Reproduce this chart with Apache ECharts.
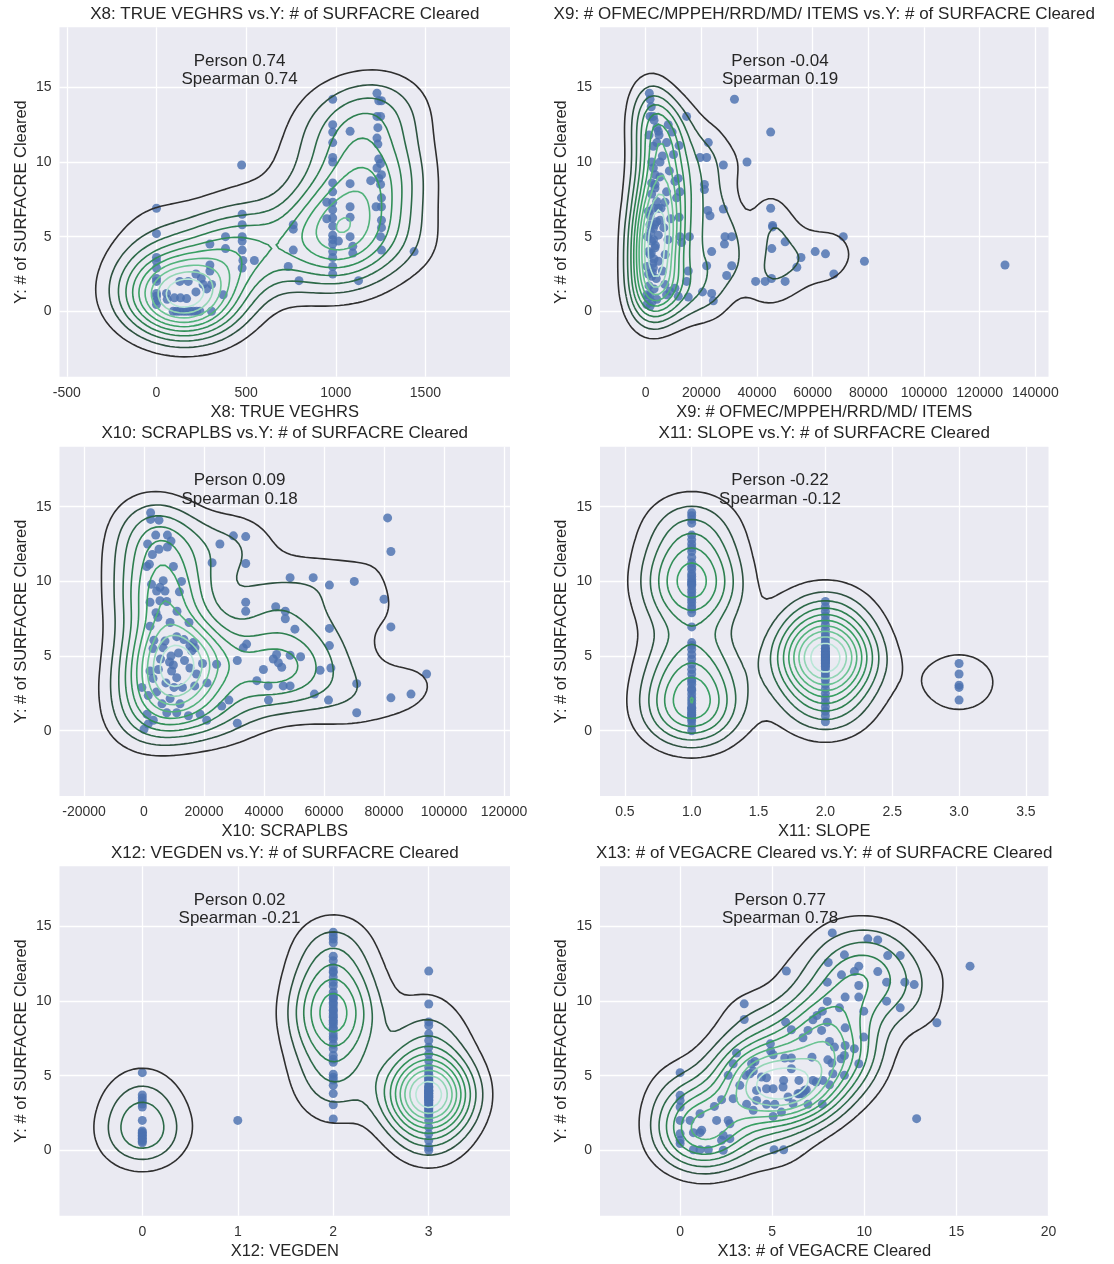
<!DOCTYPE html>
<html>
<head>
<meta charset="utf-8">
<script src="https://cdn.jsdelivr.net/npm/echarts@6/dist/echarts.min.js"></script>
<style>
  html, body { margin: 0; padding: 0; background: #ffffff; }
  #chart { width: 1114px; height: 1264px; }
</style>
</head>
<body>
<div id="chart"></div>
<script>
// ---- data -------------------------------------------------------------
const yName = 'Y: # of SURFACRE Cleared';
const xNames = ['X8: TRUE VEGHRS', 'X9: # OFMEC/MPPEH/RRD/MD/ ITEMS', 'X10: SCRAPLBS',
                'X11: SLOPE', 'X12: VEGDEN', 'X13: # of VEGACRE Cleared'];
const pearson  = [0.74, -0.04, 0.09, -0.22, 0.02, 0.77];
const spearman = [0.74,  0.19, 0.18, -0.12, -0.21, 0.78];

const yTicks = [0, 5, 10, 15];
const xTicks8  = [-500, 0, 500, 1000, 1500];
const xTicks9  = [0, 20000, 40000, 60000, 80000, 100000, 120000, 140000];
const xTicks10 = [-20000, 0, 20000, 40000, 60000, 80000, 100000, 120000];
const xTicks11 = [0.5, 1.0, 1.5, 2.0, 2.5, 3.0, 3.5];
const xTicks12 = [0, 1, 2, 3];
const xTicks13 = [0, 5, 10, 15, 20];

// X8: TRUE VEGHRS vs Y
const vegHrsPoints = [
  [0,6.9],[0,5.2],[0,3.6],[0,3.35],[0,2.9],[0,2.2],[0,2.0],[0,1.2],[0,1.0],[0,0.7],[0,0.45],
  [56,1.2],[130,2.0],[177,2.0],[220,2.5],[220,1.3],[134,0.9],[168,0.85],[100,0.9],[60,0.8],
  [93,0],[112,0],[130,0],[150,0],[168,0],[187,0],[205,0],[224,0],[242,0],[307,0],
  [298,4.5],[298,3.1],[298,2.7],[307,1.8],[372,1.1],[385,5.0],[385,4.2],[260,1.8],[250,2.2],[280,1.5],
  [475,9.8],[478,6.5],[478,5.8],[478,5.0],[478,4.7],[478,4.1],[478,2.9],[482,3.4],[546,3.4],
  [735,3.0],[763,5.8],[763,5.5],[763,4.1],[795,2.05],
  [983,14.2],[983,12.5],[983,12.0],[983,11.3],[983,10.3],[983,10.0],[983,8.6],[983,8.0],[983,7.3],
  [983,6.8],[983,6.25],[983,5.7],[983,5.1],[983,4.8],[983,4.5],[983,4.0],[983,3.6],[983,3.0],[983,2.5],
  [950,7.3],[950,6.2],[1015,4.7],[1080,12.05],[1080,8.55],[1080,7.0],[1080,6.3],[1080,5.0],
  [1095,4.35],[1095,3.9],[1127,2.05],[1195,8.75],
  [1230,14.6],[1240,14.1],[1255,14.1],[1230,13.05],[1250,13.05],[1235,12.3],[1230,11.6],[1235,11.2],
  [1240,10.2],[1250,9.9],[1230,9.6],[1255,9.15],[1240,8.9],[1250,8.5],[1255,7.6],[1255,7.0],
  [1255,6.1],[1255,5.6],[1250,5.0],[1255,4.1],[1225,7.0],
  [1437,4.0]
];

// X9: # OFMEC/MPPEH/RRD/MD/ ITEMS vs Y
const itemsPoints = [
  [1300,14.6],[1560,14.2],[31900,14.2],[44900,12.0],[14700,13.05],[8100,12.5],[1560,13.05],[2750,13.05],
  [4000,12.3],[4550,12.05],[1200,11.8],[2750,11.05],[4000,11.3],[7500,11.3],[12000,11.1],[22500,11.3],
  [19500,10.3],[21900,10.3],[27900,9.8],[36400,10.0],[2150,10.0],[5150,10.0],[2750,9.6],[3350,9.15],
  [11700,8.9],[10500,8.7],[2150,8.6],[3350,8.25],[12300,8.0],[21100,8.5],[21100,8.15],[11100,7.6],
  [6900,7.3],[4550,6.9],[950,6.7],[27900,6.85],[22300,6.75],[23100,6.4],[44900,6.9],[12000,6.3],
  [5150,6.1],[45600,5.75],[45600,5.65],[15700,5.0],[12300,5.0],[28500,5.0],[30900,5.0],[28300,4.5],
  [71000,5.0],[50100,4.65],[12900,4.6],[23700,4.0],[45300,4.2],[60900,4.0],[64600,3.85],[55800,3.6],
  [78600,3.35],[129100,3.1],[21900,3.05],[30900,3.05],[54300,2.95],[15300,2.7],[14700,2.0],[29100,2.4],
  [67600,2.5],[39500,2.0],[42900,2.0],[45200,2.2],[50100,2.0],[20400,1.3],[23700,1.2],[24300,0.7],
  [15300,0.95],[8700,1.35],[11700,1.0],[7500,1.1],[6900,1.8],[10500,1.55],
  [400,1.1],[1600,1.1],[950,0.9],[400,0.45],[1600,0.35],[2150,2.35],[2750,2.9],[4550,3.35],[1600,3.8],
  [3350,4.25],[2150,4.7],[4550,5.1],[2750,5.55],[3950,6.0],[1600,6.4],[2750,6.9],[3950,7.35],[2150,7.85],
  [3350,8.5],[5150,9.0],[2500,3.2],[3000,3.5],[2000,3.9],[3500,4.4],[2800,4.8],[1800,5.3],[3200,5.8],
  [2400,2.6],[3800,2.2],[1200,1.7],[3000,1.5],[2200,0.6],[4000,0.8],[6000,2.7],[7000,3.8],[8000,4.8],
  [6500,5.6],[9000,6.2],[5500,6.9],[8500,9.4],[6000,10.4],[4800,11.8],[3000,12.8],[2000,13.7],
  [9500,12.0],[10000,10.5],[7500,8.0],[1000,4.0],[1000,2.5],[1500,5.8],[500,3.0],[600,5.0]
];

// X10: SCRAPLBS vs Y
const scrapPoints = [
  [81200,14.25],[82300,12.0],[80000,8.8],[82300,6.95],[94200,3.8],[82300,2.2],[89000,2.45],[70900,3.15],
  [70900,1.2],[70100,10.0],[61800,9.75],[56400,10.25],[48700,10.25],[61800,6.85],[61800,5.7],[62300,4.2],
  [58700,4.05],[56800,2.45],[61500,2.05],[50300,6.8],[47100,8.0],[47100,7.5],[43900,8.3],[48700,5.05],
  [52200,4.95],[44200,5.1],[43100,4.8],[44800,4.55],[45900,4.25],[39800,4.1],[37600,3.35],[41400,3.0],
  [46400,3.0],[48700,3.0],[41500,2.05],[33900,13.0],[29800,13.05],[25300,12.5],[22700,11.25],[33900,11.2],
  [33900,8.6],[33900,8.0],[33100,5.55],[34200,5.8],[31100,4.7],[24200,4.45],[28300,2.05],[25900,1.65],
  [31100,0.5],[20900,0.7],[18700,1.1],
  [2200,14.6],[5000,14.1],[2200,14.15],[3900,13.1],[7800,13.1],[7800,12.3],[5000,12.15],[2800,11.8],
  [1800,11.15],[900,11.0],[9800,11.0],[6400,10.05],[5300,9.6],[4200,9.35],[7000,9.35],[11800,9.3],
  [2000,8.6],[5300,8.7],[7600,8.65],[4600,7.6],[2000,7.0],[8700,7.25],[15000,7.25],[3300,6.05],
  [10900,6.3],[13300,6.1],[16400,5.9],[17000,5.55],[15900,5.35],[15300,5.7],[6400,5.55],
  [9000,5.0],[8500,4.6],[9800,4.4],[9200,4.0],[4800,4.1],[2000,4.0],[15300,4.2],[10900,3.55],[7300,3.2],
  [10000,2.9],[12800,2.9],[16900,3.0],[-700,2.9],[1400,2.35],[4200,2.6],[8700,2.15],[1000,1.1],[1400,0.45],
  [0,0.1],[3100,0.7],[7600,1.2],[10900,1.2],[14800,1.0],[12000,1.8],[6000,1.8],[3000,3.5],[5500,4.8],
  [11500,5.2],[13500,4.7],[7000,6.0],[3000,5.5],[17500,3.8],[19500,4.5],[21000,3.2],[2500,9.8],
  [1200,12.5],[4000,7.9],[11000,8.0],[12500,10.0],[9000,12.7]
];

// X11: SLOPE vs Y (one list of Y values per slope class)
const slopeOneY = [14.6,14.4,14.15,13.9,13.1,12.8,12.5,12.25,12.0,11.6,11.25,11.0,10.8,10.5,10.35,10.15,
  10.0,9.9,9.8,9.7,9.45,9.25,9.0,8.8,8.6,8.35,8.15,7.9,6.95,5.9,5.7,5.45,5.1,4.8,4.45,4.1,3.8,3.45,3.3,
  3.1,2.8,2.7,2.45,2.2,2.0,1.8,1.55,1.5,1.35,1.2,1.1,1.0,0.9,0.8,0.65,0.35,0.0];
const slopeTwoY = [8.65,8.3,8.0,7.7,7.4,7.1,6.8,6.5,6.3,6.1,5.9,5.7,5.5,5.5,5.3,5.3,5.2,5.1,5.0,5.0,5.0,
  4.9,4.8,4.8,4.7,4.6,4.6,4.5,4.4,4.3,4.2,4.0,3.8,3.6,3.4,3.1,2.8,2.5,2.2,1.9,1.6,1.3,1.0,0.6];
const slopeThreeY = [4.5,3.8,3.05,2.9,2.05];

// X12: VEGDEN vs Y (one list of Y values per density class; stacked repeats overlap in the column)
const vegDenZeroY = [5.2,3.7,3.5,3.3,3.1,2.9,2.0,1.3,1.2,1.1,1.0,0.9,0.8,0.7,0.6,0.5];
const vegDenOneY = [2.0];
const vegDenTwoY = [14.6,14.35,14.15,13.9,13.0,12.7,12.25,11.9,11.6,11.25,10.35,10.15,9.9,9.6,9.35,9.15,
  8.9,8.7,8.45,8.15,7.8,7.45,7.1,6.8,6.35,6.1,5.9,5.1,4.9,4.7,4.35,3.8,3.05,2.1,
  10.6,10.2,9.8,9.4,9.0,8.6,8.2,11.0,7.6,12.0];
const vegDenThreeY = [12.0,9.8,8.6,8.35,7.8,7.35,6.9,6.45,6.0,5.55,5.1,4.7,4.6,4.3,4.25,4.0,4.0,3.8,3.8,
  3.55,3.5,3.35,3.3,3.1,3.0,2.9,2.7,2.45,2.0,1.55,1.1,0.65,0.2,0.0,
  5.3,4.9,4.5,4.2,3.9,3.7,3.6,3.4,3.2,2.8,2.6,2.3,4.8,4.1,3.95,3.65];

// X13: # of VEGACRE Cleared vs Y
const vegAcrePoints = [
  [8.26,14.56],[10.19,14.16],[10.73,14.09],[8.92,13.09],[11.27,13.04],[11.95,13.04],[8.04,12.58],[15.74,12.33],
  [9.7,12.33],[9.46,11.97],[5.77,12.0],[8.76,11.75],[10.73,11.97],[7.99,11.26],[11.21,11.26],[12.2,11.26],
  [12.71,11.1],[9.7,11.04],[8.96,10.26],[9.7,10.26],[7.99,9.97],[11.21,9.99],[11.95,9.54],[3.48,9.81],
  [8.65,9.54],[9.97,9.32],[7.72,9.32],[7.43,9.03],[7.21,8.74],[13.94,8.54],[3.48,8.76],[5.73,8.58],
  [6.04,8.07],[7.99,8.58],[6.94,8.03],[7.68,8.03],[8.96,8.2],[9.97,7.58],[6.67,7.54],[8.11,7.29],
  [8.38,6.91],[8.96,7.02],[9.46,6.8],[4.9,7.13],[4.92,6.64],[3.06,6.51],[4.06,5.95],[5.05,6.4],
  [5.68,6.18],[6.04,6.18],[7.16,6.24],[8.02,6.06],[8.24,5.84],[8.74,6.13],[8.92,6.35],[9.7,5.8],
  [2.88,5.8],[2.61,5.02],[3.88,5.8],[3.97,5.31],[4.42,4.91],[4.69,4.86],[5.62,4.68],[6.04,5.46],
  [6.45,4.68],[6.85,4.06],[7.39,4.57],[8.92,5.02],[8.11,4.39],[7.72,3.08],[6.94,3.08],[6.67,3.79],[6.4,3.79],
  [0,5.2],[0,3.68],[0,3.34],[0,2.9],[0,2.0],[0,1.11],[0,0.67],[0,0.45],
  [0.54,2.0],[1.08,2.45],[0.72,1.18],[1.08,1.18],[1.17,1.34],[1.86,2.94],[2.25,3.39],[1.98,2.0],
  [2.61,2.0],[2.7,1.78],[2.34,1.0],[2.25,0.67],[2.7,0.78],[2.34,0],[0.72,0.04],[1.08,0.04],[1.53,0.04],
  [2.88,3.46],[3.24,4.35],[3.61,3.08],[3.97,2.68],[4.15,3.34],[4.69,3.08],[5.14,3.08],[5.5,2.56],[5.05,2.27],
  [5.1,0.04],[5.62,0.04],[12.84,2.12],
  [3.57,5.02],[3.79,5.13],[4.15,4.01],[4.69,4.12],[5.05,4.12],[5.59,4.24],[5.86,3.57],[6.13,3.12],
  [6.49,3.79],[6.76,4.01],[7.21,4.68],[7.75,4.68],[8.29,5.13]
];

// ---- helpers ----------------------------------------------------------
const FONT = '"Liberation Sans", Arial, Helvetica, sans-serif';
const TEXT = '#262626';

function columnPairs(xValue, ys) { return ys.map(y => [xValue, y]); }

const slopePoints = [].concat(columnPairs(1, slopeOneY), columnPairs(2, slopeTwoY), columnPairs(3, slopeThreeY));
const vegDenPoints = [].concat(columnPairs(0, vegDenZeroY), columnPairs(1, vegDenOneY),
                               columnPairs(2, vegDenTwoY), columnPairs(3, vegDenThreeY));

// Scott's rule bandwidth for one variable
function scottBandwidth(v) {
  const n = v.length;
  const mean = v.reduce((a, b) => a + b, 0) / n;
  const std = Math.sqrt(v.reduce((a, b) => a + (b - mean) * (b - mean), 0) / (n - 1));
  const s = v.slice().sort((a, b) => a - b);
  const pct = p => { const r = p * (n - 1); const lo = Math.floor(r), hi = Math.ceil(r); return s[lo] + (s[hi] - s[lo]) * (r - lo); };
  const iqr = (pct(0.75) - pct(0.25)) / 1.349;
  let a = Math.min(std, iqr);
  if (!(a > 0)) a = std;
  return 1.059 * a * Math.pow(n, -0.2);
}

// Gaussian product-kernel density estimate on a regular grid
function kde2d(points, gridSize, cut) {
  const xs = points.map(p => p[0]), ys = points.map(p => p[1]);
  const bx = scottBandwidth(xs), by = scottBandwidth(ys);
  const x0 = Math.min(...xs) - cut * bx, x1 = Math.max(...xs) + cut * bx;
  const y0 = Math.min(...ys) - cut * by, y1 = Math.max(...ys) + cut * by;
  const gx = [], gy = [];
  for (let i = 0; i < gridSize; i++) {
    gx.push(x0 + (x1 - x0) * i / (gridSize - 1));
    gy.push(y0 + (y1 - y0) * i / (gridSize - 1));
  }
  const n = points.length;
  const kx = gx.map(g => xs.map(x => Math.exp(-0.5 * ((g - x) / bx) ** 2)));
  const ky = gy.map(g => ys.map(y => Math.exp(-0.5 * ((g - y) / by) ** 2)));
  const norm = 1 / (n * 2 * Math.PI * bx * by);
  const z = [];
  for (let i = 0; i < gridSize; i++) {
    const row = [];
    for (let j = 0; j < gridSize; j++) {
      let s = 0;
      const a = kx[i], b = ky[j];
      for (let p = 0; p < n; p++) s += a[p] * b[p];
      row.push(s * norm);
    }
    z.push(row);
  }
  return { gx, gy, z };
}

// evenly spaced contour levels strictly between the lowest and highest density
function contourLevels(zmin, zmax, nLevels) {
  const out = [];
  for (let k = 1; k <= nLevels; k++) out.push(zmin + (zmax - zmin) * k / (nLevels + 1));
  return out;
}

// marching squares: returns polylines (arrays of [x, y]) for one level
function contourChains(grid, level) {
  const { gx, gy, z } = grid;
  const nx = gx.length, ny = gy.length;
  const pts = new Map();
  const edge = (key, xa, ya, za, xb, yb, zb) => {
    if (!pts.has(key)) {
      const t = (level - za) / (zb - za);
      pts.set(key, [xa + t * (xb - xa), ya + t * (yb - ya)]);
    }
    return key;
  };
  const segs = [];
  for (let i = 0; i < nx - 1; i++) {
    for (let j = 0; j < ny - 1; j++) {
      const a = z[i][j], b = z[i + 1][j], c = z[i + 1][j + 1], d = z[i][j + 1];
      const A = a >= level, B = b >= level, C = c >= level, D = d >= level;
      if (A === B && B === C && C === D) continue;
      const eb = A !== B ? edge('h' + i + '_' + j, gx[i], gy[j], a, gx[i + 1], gy[j], b) : null;
      const er = B !== C ? edge('v' + (i + 1) + '_' + j, gx[i + 1], gy[j], b, gx[i + 1], gy[j + 1], c) : null;
      const et = D !== C ? edge('h' + i + '_' + (j + 1), gx[i], gy[j + 1], d, gx[i + 1], gy[j + 1], c) : null;
      const el = A !== D ? edge('v' + i + '_' + j, gx[i], gy[j], a, gx[i], gy[j + 1], d) : null;
      const crossed = [eb, er, et, el].filter(e => e !== null);
      if (crossed.length === 2) {
        segs.push(crossed);
      } else if (crossed.length === 4) {
        const centre = (a + b + c + d) / 4 >= level;
        if (centre === A) { segs.push([eb, er], [el, et]); }
        else { segs.push([eb, el], [er, et]); }
      }
    }
  }
  const adj = new Map();
  segs.forEach((s, k) => s.forEach(e => { if (!adj.has(e)) adj.set(e, []); adj.get(e).push(k); }));
  const used = new Array(segs.length).fill(false);
  const chains = [];
  for (let k = 0; k < segs.length; k++) {
    if (used[k]) continue;
    used[k] = true;
    const chain = [segs[k][0], segs[k][1]];
    let tail = segs[k][1];
    for (;;) {
      const nxt = (adj.get(tail) || []).find(m => !used[m]);
      if (nxt === undefined) break;
      used[nxt] = true;
      tail = segs[nxt][0] === tail ? segs[nxt][1] : segs[nxt][0];
      chain.push(tail);
    }
    let head = segs[k][0];
    for (;;) {
      const nxt = (adj.get(head) || []).find(m => !used[m]);
      if (nxt === undefined) break;
      used[nxt] = true;
      head = segs[nxt][0] === head ? segs[nxt][1] : segs[nxt][0];
      chain.unshift(head);
    }
    chains.push(chain.map(key => pts.get(key)));
  }
  return chains;
}

// colour ramp for the density contours: charcoal -> dark green -> pale mint
const rampStops = [[0, '#2f2f2f'], [0.14, '#2c5a43'], [0.34, '#2d804f'], [0.56, '#38a062'], [0.78, '#6cc493'], [1, '#b8e6d6']];
function rampColor(t) {
  const hex = h => [1, 3, 5].map(k => parseInt(h.substr(k, 2), 16));
  for (let k = 1; k < rampStops.length; k++) {
    if (t <= rampStops[k][0] || k === rampStops.length - 1) {
      const [t0, c0] = rampStops[k - 1], [t1, c1] = rampStops[k];
      const u = Math.max(0, Math.min(1, (t - t0) / (t1 - t0)));
      const a = hex(c0), b = hex(c1);
      return 'rgb(' + a.map((v, q) => Math.round(v + (b[q] - v) * u)).join(',') + ')';
    }
  }
  return rampStops[rampStops.length - 1][1];
}

function contourSeries(points, idx) {
  const grid = kde2d(points, 100, 3);
  let zmin = Infinity, zmax = -Infinity;
  grid.z.forEach(r => r.forEach(v => { if (v < zmin) zmin = v; if (v > zmax) zmax = v; }));
  const levels = contourLevels(zmin, zmax, 10);
  const data = [];
  levels.forEach((lv, k) => {
    const t = levels.length > 1 ? k / (levels.length - 1) : 0;
    const color = rampColor(t);
    contourChains(grid, lv).forEach(ch => {
      if (ch.length > 1) data.push({ coords: ch, lineStyle: { color } });
    });
  });
  return {
    type: 'lines', coordinateSystem: 'cartesian2d', polyline: true,
    xAxisIndex: idx, yAxisIndex: idx, silent: true, z: 3,
    lineStyle: { width: 1.6, opacity: 1, curveness: 0 },
    data
  };
}

// ---- layout -----------------------------------------------------------
const panels = [
  { pts: vegHrsPoints,  ticks: xTicks8,  range: [-541, 1972],      rect: [59.5, 27.3, 450.5, 349.4] },
  { pts: itemsPoints,   ticks: xTicks9,  range: [-16420, 144730],  rect: [600, 27.3, 448.5, 349.4] },
  { pts: scrapPoints,   ticks: xTicks10, range: [-28170, 122000],  rect: [59.5, 446.7, 450.5, 349.4] },
  { pts: slopePoints,   ticks: xTicks11, range: [0.314, 3.669],    rect: [600, 446.7, 448.5, 349.4], fixed: 1 },
  { pts: vegDenPoints,  ticks: xTicks12, range: [-0.867, 3.851],   rect: [59.5, 866.3, 450.5, 349.4] },
  { pts: vegAcrePoints, ticks: xTicks13, range: [-4.35, 20.0],     rect: [600, 866.3, 448.5, 349.4] }
];
const yRange = [-4.38, 19.02];

const grids = [], xAxes = [], yAxes = [], series = [], graphics = [];
panels.forEach((p, i) => {
  const [l, t, w, h] = p.rect;
  grids.push({ left: l, top: t, width: w, height: h, show: true, backgroundColor: '#eaeaf2', borderWidth: 0, containLabel: false });
  xAxes.push({
    type: 'value', gridIndex: i, min: p.range[0], max: p.range[1],
    name: xNames[i], nameLocation: 'middle', nameGap: 27,
    nameTextStyle: { color: TEXT, fontSize: 16.5, fontFamily: FONT },
    axisLine: { show: false },
    axisTick: { show: false, customValues: p.ticks },
    axisLabel: {
      customValues: p.ticks, color: '#333333', fontSize: 14, fontFamily: FONT, margin: 9,
      formatter: v => p.fixed ? Number(v).toFixed(p.fixed) : String(v)
    },
    splitLine: { show: true, lineStyle: { color: '#ffffff', width: 1.3 } }
  });
  yAxes.push({
    type: 'value', gridIndex: i, min: yRange[0], max: yRange[1],
    name: yName, nameLocation: 'middle', nameGap: 30,
    nameTextStyle: { color: TEXT, fontSize: 16.5, fontFamily: FONT },
    axisLine: { show: false },
    axisTick: { show: false, customValues: yTicks },
    axisLabel: { customValues: yTicks, color: '#333333', fontSize: 14, fontFamily: FONT, margin: 8 },
    splitLine: { show: true, lineStyle: { color: '#ffffff', width: 1.3 } }
  });
  series.push({
    type: 'scatter', xAxisIndex: i, yAxisIndex: i, data: p.pts, symbolSize: 9, silent: true, z: 2,
    itemStyle: { color: '#4c72b0', opacity: 0.82 }
  });
  series.push(contourSeries(p.pts, i));
  graphics.push({
    type: 'text', x: l + w / 2, y: t - 13,
    style: { text: xNames[i] + ' vs.' + yName, fill: TEXT, font: '17px ' + FONT, align: 'center', verticalAlign: 'middle' }
  });
  graphics.push({
    type: 'text', x: l + 180, y: t + 43, z: 10,
    style: {
      text: 'Person ' + pearson[i].toFixed(2) + '\nSpearman ' + spearman[i].toFixed(2),
      fill: TEXT, font: '17px ' + FONT, align: 'center', verticalAlign: 'middle', lineHeight: 18.7
    }
  });
});

const chart = echarts.init(document.getElementById('chart'), null, { renderer: 'canvas' });
chart.setOption({
  backgroundColor: '#ffffff',
  animation: false,
  grid: grids, xAxis: xAxes, yAxis: yAxes, series,
  graphic: graphics
});
</script>
</body>
</html>
